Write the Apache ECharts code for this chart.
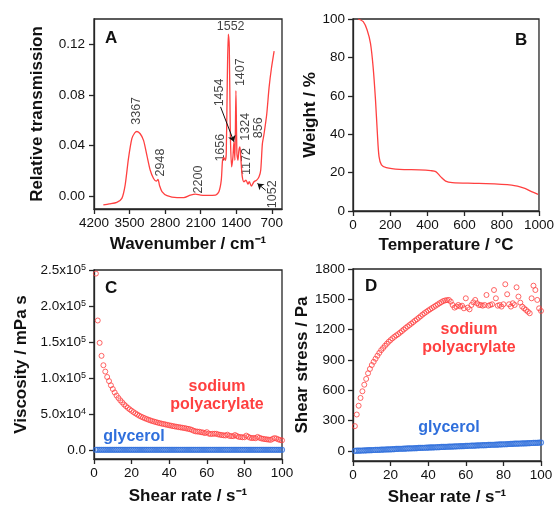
<!DOCTYPE html>
<html>
<head>
<meta charset="utf-8">
<script src="https://cdn.jsdelivr.net/npm/echarts@6.0.0/dist/echarts.min.js"></script>
<style>
html, body { margin: 0; padding: 0; background: #fff; }
#main { width: 557px; height: 508px; }
</style>
</head>
<body>
<div id="main"></div>
<script>
// A - FTIR spectrum
var ftirWavenumber = [4016,3900,3751,3652,3587,3522,3455,3400,3356,3291,3225,3159,3093,3028,2974,2941,2909,2862,2763,2565,
    2433,2302,2200,2104,1985,1808,1742,1695,1670,1644,1617,1597,1577,1557,1537,1518,1492,1466,1446,1427,
    1407,1387,1367,1348,1328,1308,1282,1249,1209,1170,1143,1104,1051,998,952,919,886,853,800,754,706,655];
var ftirTransmission = [-0.0068,-0.0060,-0.0047,-0.0016,0.0089,0.0298,0.0455,0.0500,0.0512,0.0494,0.0442,0.0324,0.0206,0.0141,0.0120,0.0133,0.0084,0.0037,0.0005,-0.0010,
    -0.0010,0.0010,0.0018,0.0010,0.0008,0.0010,0.0037,0.0128,0.0285,0.0306,0.0285,0.0337,0.0910,0.1280,0.1170,0.0520,0.0233,0.0310,0.0430,0.0285,
    0.0834,0.0337,0.0285,0.0363,0.0390,0.0285,0.0155,0.0115,0.0128,0.0097,0.0115,0.0081,0.0115,0.0128,0.0155,0.0206,0.0416,0.0494,0.0650,0.0860,0.1017,0.1147];
// peak labels: [label x, label y, text, rotated]
var peakLabels = [
    [3356, 0.0675, '3367', true],
    [2881, 0.0267, '2948', true],
    [2144, 0.0133, '2200', true],
    [1709, 0.0384, '1656', true],
    [1723, 0.0820, '1454', true],
    [1511, 0.1340, '1552', false],
    [1314, 0.0980, '1407', true],
    [1215, 0.0549, '1324', true],
    [952, 0.0541, '856', true],
    [1195, 0.0275, '1172', true],
    [687, 0.0016, '1052', true]
];
var peakArrows = [
    [[1709, 0.0706], [1446, 0.0431]],
    [[819, 0.0047], [983, 0.0102]]
];
var ftirTicksX = [700, 1400, 2100, 2800, 3500, 4200];
var ftirTicksY = [0, 0.04, 0.08, 0.12];

// B - TGA
var tgaTemp = [28,55,76,94,108,121,131,140,153,179,250,356,418,445,471,498,534,676,853,924,960,995];
var tgaWeight = [100,98.6,94.3,87.3,75.2,57.8,40.5,28.3,24,22.6,21.7,21.4,21,20.5,17.9,15.6,14.8,14.4,13.5,11.8,10.1,8.7];

// C, D - rheology
var shearRate = [1,2,3,4,5,6,7,8,9,10,11,12,13,14,15,16,17,18,19,20,
    21,22,23,24,25,26,27,28,29,30,31,32,33,34,35,36,37,38,39,40,
    41,42,43,44,45,46,47,48,49,50,51,52,53,54,55,56,57,58,59,60,
    61,62,63,64,65,66,67,68,69,70,71,72,73,74,75,76,77,78,79,80,
    81,82,83,84,85,86,87,88,89,90,91,92,93,94,95,96,97,98,99,100];
var spaViscosity = [245000,180000,149000,131000,118000,109200,101700,96000,90100,85000,
    80200,76000,72500,69300,66500,63600,61200,58900,56800,54900,
    53000,51300,49700,48100,46800,45600,44500,43400,42400,41500,
    40600,39800,39100,38300,37700,37000,36500,35900,35300,34700,
    34200,33600,33100,32700,32200,31800,31300,30900,30400,29800,
    29300,28400,27200,26300,26000,25800,25100,24800,23900,25200,
    23200,22600,22900,23000,23000,22100,21600,21200,20800,20600,
    21700,20000,19800,19600,21200,19900,18700,18500,18100,18100,
    20400,18900,17500,17000,17200,16800,18600,17400,16500,15900,
    15500,15200,14800,14500,15900,17000,16400,15200,14300,13900];
var glyViscosity = [830,820,840,830,820,830,840,820,830,830,
    820,830,840,830,820,830,830,840,820,830,
    830,820,830,840,830,820,830,830,820,840,
    830,820,830,830,840,820,830,830,820,830,
    840,830,820,830,830,820,840,830,830,820,
    830,840,830,820,830,830,820,840,830,830,
    820,830,840,830,820,830,830,840,820,830,
    830,820,830,840,830,820,830,830,820,840,
    830,820,830,830,840,820,830,830,820,830,
    840,830,820,830,830,820,840,830,830,820];
var spaStress = [245,360,447,524,590,655,712,768,811,850,
    882,912,942,970,997,1018,1040,1060,1080,1097,
    1114,1129,1143,1155,1170,1185,1201,1216,1231,1245,
    1259,1274,1289,1303,1318,1333,1349,1363,1376,1389,
    1401,1413,1425,1437,1449,1461,1472,1483,1489,1492,
    1494,1477,1444,1418,1428,1444,1430,1437,1411,1510,
    1418,1401,1444,1470,1494,1461,1444,1444,1437,1444,
    1543,1437,1444,1451,1592,1510,1437,1444,1428,1451,
    1649,1550,1451,1428,1461,1444,1619,1527,1467,1428,
    1411,1395,1378,1362,1510,1635,1592,1494,1411,1385];
var glyStress = [1,2,2,3,4,5,6,7,7,8,
    9,10,11,11,12,13,14,15,16,16,
    17,18,19,20,21,21,22,23,24,25,
    25,26,27,28,29,30,30,31,32,33,
    34,34,35,36,37,38,39,39,40,41,
    42,43,43,44,45,46,47,48,48,49,
    50,51,52,52,53,54,55,56,57,57,
    58,59,60,61,61,62,63,64,65,66,
    66,67,68,69,70,71,71,72,73,74,
    75,75,76,77,78,79,80,80,81,82];
var viscTicks = [0, 50000, 100000, 150000, 200000, 250000];
var viscTickText = ['0.0', '5.0x10{sup|4}', '1.0x10{sup|5}', '1.5x10{sup|5}', '2.0x10{sup|5}', '2.5x10{sup|5}'];
var stressTicks = [0, 300, 600, 900, 1200, 1500, 1800];

var RED = '#ff4040';
var BLUE = '#2f6fdc';
var AXIS = '#262626';
var FONT = 'Liberation Sans, Arial, sans-serif';
var TICK_FS = 13.5;

function zip(a, b) {
    var out = [];
    for (var i = 0; i < a.length; i++) out.push([a[i], b[i]]);
    return out;
}
function plain(v) { return String(v); }

function label(extra) {
    var o = { color: '#111', fontSize: TICK_FS, fontFamily: FONT, formatter: plain };
    for (var k in extra) o[k] = extra[k];
    return o;
}
function tick(extra) {
    var o = { show: true, length: 5, lineStyle: { color: AXIS, width: 1.3 } };
    for (var k in extra) o[k] = extra[k];
    return o;
}

function axisBase(extra) {
    var o = {
        type: 'value',
        axisLine: { show: true, onZero: false, lineStyle: { color: AXIS, width: 1.3 } },
        axisTick: tick({}),
        axisLabel: label({}),
        splitLine: { show: false },
        nameLocation: 'middle',
        nameTextStyle: { color: '#111', fontSize: 17, fontWeight: 'bold', fontFamily: FONT }
    };
    for (var k in extra) o[k] = extra[k];
    return o;
}

var chart = echarts.init(document.getElementById('main'), null, { renderer: 'canvas' });

function grid(l, t, w, h) {
    return { left: l, top: t, width: w, height: h, show: true, borderColor: AXIS, borderWidth: 1.3, backgroundColor: 'transparent' };
}

function annot(x, y, text, color) {
    return { type: 'text', x: x, y: y, style: { text: text, font: 'bold 16px ' + FONT, fill: color, align: 'center', verticalAlign: 'middle' } };
}

var option = {
    animation: false,
    backgroundColor: '#fff',
    grid: [
        grid(94, 19, 188, 190),
        grid(353, 19, 188, 192),
        grid(94, 270, 188, 189),
        grid(353, 269, 188, 192)
    ],
    xAxis: [
        axisBase({
            gridIndex: 0, min: 500, max: 4200, inverse: true,
            name: 'Wavenumber / cm\u207B\u00B9', nameGap: 27,
            axisTick: tick({ customValues: ftirTicksX }),
            axisLabel: label({ customValues: ftirTicksX, margin: 7 })
        }),
        axisBase({
            gridIndex: 1, min: 0, max: 1000, interval: 200,
            name: 'Temperature / \u00B0C', nameGap: 26,
            axisLabel: label({ margin: 7 })
        }),
        axisBase({
            gridIndex: 2, min: 0, max: 100, interval: 20,
            name: 'Shear rate / s\u207B\u00B9', nameGap: 29,
            axisLabel: label({ margin: 7 })
        }),
        axisBase({
            gridIndex: 3, min: 0, max: 100, interval: 20,
            name: 'Shear rate / s\u207B\u00B9', nameGap: 28,
            axisLabel: label({ margin: 7 })
        })
    ],
    yAxis: [
        axisBase({
            gridIndex: 0, min: -0.01, max: 0.14,
            name: 'Relative transmission', nameGap: 48,
            axisTick: tick({ customValues: ftirTicksY }),
            axisLabel: label({
                customValues: ftirTicksY, margin: 9,
                formatter: function (v) { return v.toFixed(2); }
            })
        }),
        axisBase({
            gridIndex: 1, min: 0, max: 100, interval: 20,
            name: 'Weight / %', nameGap: 32,
            axisLabel: label({ margin: 8 })
        }),
        axisBase({
            gridIndex: 2, min: -12000, max: 250000,
            name: 'Viscosity / mPa s', nameGap: 64,
            axisTick: tick({ customValues: viscTicks }),
            axisLabel: label({
                customValues: viscTicks, margin: 8,
                formatter: function (v) { return viscTickText[viscTicks.indexOf(v)]; },
                rich: {
                    sup: { fontSize: 9, fontFamily: FONT, color: '#111', verticalAlign: 'top', lineHeight: 9 }
                }
            })
        }),
        axisBase({
            gridIndex: 3, min: -100, max: 1800,
            name: 'Shear stress / Pa', nameGap: 40,
            axisTick: tick({ customValues: stressTicks }),
            axisLabel: label({ customValues: stressTicks, margin: 8 })
        })
    ],
    series: [
        {
            type: 'line', xAxisIndex: 0, yAxisIndex: 0, smooth: 0.25, symbol: 'none',
            lineStyle: { color: RED, width: 1.3 },
            data: zip(ftirWavenumber, ftirTransmission),
            markLine: {
                silent: true, symbol: ['none', 'arrow'], symbolSize: 6, label: { show: false },
                lineStyle: { color: '#111', width: 1, type: 'solid' },
                data: peakArrows.map(function (a) { return [{ coord: a[0] }, { coord: a[1] }]; })
            }
        },
        {
            type: 'scatter', xAxisIndex: 0, yAxisIndex: 0, symbolSize: 0, silent: true,
            data: peakLabels.map(function (p) {
                return {
                    name: p[2], value: [p[0], p[1]],
                    label: { rotate: p[3] ? 90 : 0 }
                };
            }),
            label: {
                show: true, position: 'inside', formatter: '{b}',
                color: '#111', fontSize: 12.5, fontFamily: FONT
            }
        },
        {
            type: 'line', xAxisIndex: 1, yAxisIndex: 1, smooth: 0.3, symbol: 'none',
            lineStyle: { color: RED, width: 1.3 },
            data: zip(tgaTemp, tgaWeight)
        },
        {
            type: 'scatter', xAxisIndex: 2, yAxisIndex: 2, symbol: 'circle', symbolSize: 5,
            itemStyle: { color: 'transparent', borderColor: BLUE, borderWidth: 1.2 },
            data: zip(shearRate, glyViscosity)
        },
        {
            type: 'scatter', xAxisIndex: 2, yAxisIndex: 2, symbol: 'circle', symbolSize: 5,
            itemStyle: { color: 'transparent', borderColor: RED, borderWidth: 1 },
            data: zip(shearRate, spaViscosity)
        },
        {
            type: 'scatter', xAxisIndex: 3, yAxisIndex: 3, symbol: 'circle', symbolSize: 5,
            itemStyle: { color: 'transparent', borderColor: BLUE, borderWidth: 1.2 },
            data: zip(shearRate, glyStress)
        },
        {
            type: 'scatter', xAxisIndex: 3, yAxisIndex: 3, symbol: 'circle', symbolSize: 5,
            itemStyle: { color: 'transparent', borderColor: RED, borderWidth: 1 },
            data: zip(shearRate, spaStress)
        }
    ],
    graphic: [
        { type: 'text', left: 105, top: 30, style: { text: 'A', font: 'bold 17px ' + FONT, fill: '#111' } },
        { type: 'text', left: 515, top: 32, style: { text: 'B', font: 'bold 17px ' + FONT, fill: '#111' } },
        { type: 'text', left: 105, top: 280, style: { text: 'C', font: 'bold 17px ' + FONT, fill: '#111' } },
        { type: 'text', left: 365, top: 278, style: { text: 'D', font: 'bold 17px ' + FONT, fill: '#111' } },
        annot(217, 387, 'sodium', RED),
        annot(217, 405, 'polyacrylate', RED),
        annot(134, 437, 'glycerol', BLUE),
        annot(469, 330, 'sodium', RED),
        annot(469, 348, 'polyacrylate', RED),
        annot(449, 428, 'glycerol', BLUE)
    ]
};

chart.setOption(option);
</script>
</body>
</html>
